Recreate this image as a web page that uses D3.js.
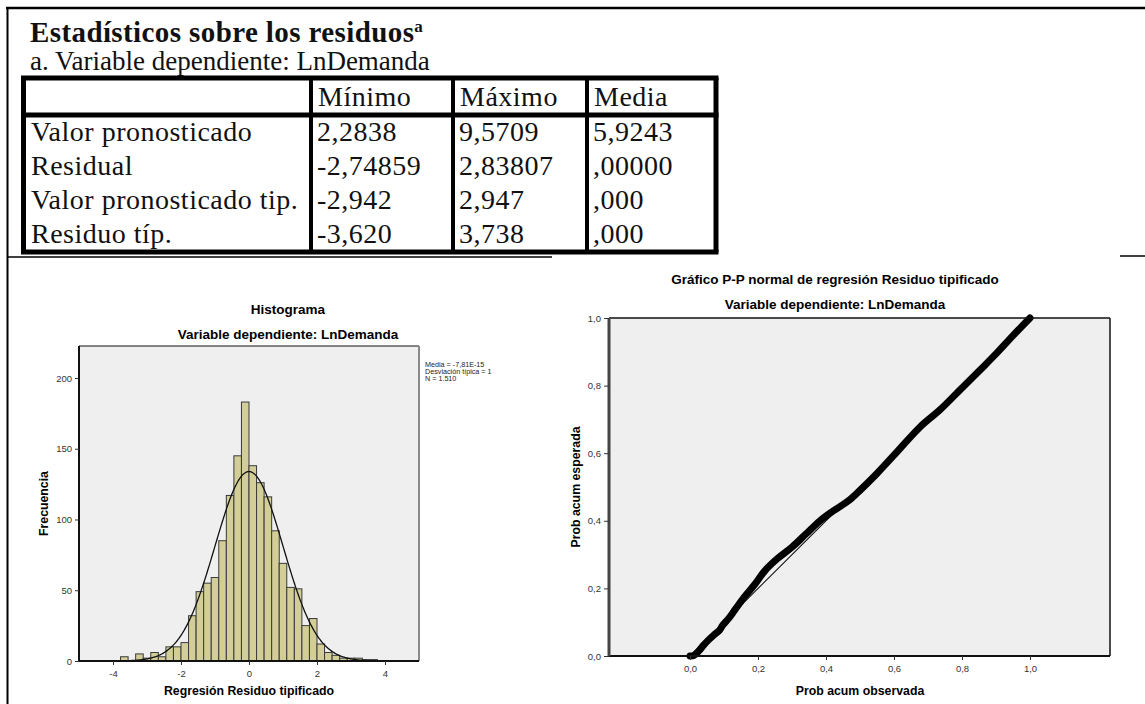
<!DOCTYPE html>
<html>
<head>
<meta charset="utf-8">
<script src="https://cdn.jsdelivr.net/npm/d3@7"></script>
<style>
  body { margin: 0; background: #fff; }
  svg { display: block; }
</style>
</head>
<body>
<svg id="chart" width="1145" height="704"></svg>
<script>
// ---- Table: Estadísticos sobre los residuos ----
const tableTitle = "Estadísticos sobre los residuos";
const tableNote = "a. Variable dependiente: LnDemanda";
const columnHeaders = ["Mínimo", "Máximo", "Media"];
const rowLabels = ["Valor pronosticado", "Residual", "Valor pronosticado tip.", "Residuo típ."];
const minimos = ["2,2838", "-2,74859", "-2,942", "-3,620"];
const maximos = ["9,5709", "2,83807", "2,947", "3,738"];
const medias = ["5,9243", ",00000", ",000", ",000"];

// ---- Histogram of standardized residuals ----
const binWidth = 2 / 9;
const firstBinStart = -17 * binWidth;
const binCounts = [3, 0, 5, 2, 6, 3, 10, 10, 13, 32, 49, 55, 59, 85, 117, 145, 183,
                   138, 126, 116, 92, 69, 52, 51, 25, 30, 12, 6, 4, 2, 2, 2, 1, 1];
const residMean = -7.81e-15;
const residSD = 1;
const residN = 1510;
const histXTicks = [-4, -2, 0, 2, 4];
const histYTicks = [0, 50, 100, 150, 200];
const histLegend = ["Media = -7,81E-15", "Desviación típica = 1", "N = 1.510"];

// ---- Normal P-P plot ----
const ppObserved = [0.000, 0.012, 0.026, 0.040, 0.054, 0.070, 0.085, 0.097, 0.115, 0.133,
                    0.160, 0.189, 0.220, 0.257, 0.300, 0.340, 0.382, 0.415, 0.441, 0.470,
                    0.500, 0.550, 0.600, 0.676, 0.735, 0.794, 0.862, 0.902, 0.950, 1.000];
const ppExpected = [0.000, 0.002, 0.015, 0.032, 0.047, 0.062, 0.074, 0.092, 0.113, 0.138,
                    0.175, 0.210, 0.252, 0.288, 0.322, 0.360, 0.400, 0.425, 0.442, 0.462,
                    0.490, 0.540, 0.594, 0.677, 0.728, 0.787, 0.855, 0.896, 0.948, 1.000];
const ppTicks = [0, 0.2, 0.4, 0.6, 0.8, 1.0];

const svg = d3.select("#chart");
const serif = "'Liberation Serif', 'Times New Roman', serif";
const sans = "'Liberation Sans', Arial, sans-serif";

function line(x1, y1, x2, y2, w, color) {
  svg.append("line").attr("x1", x1).attr("y1", y1).attr("x2", x2).attr("y2", y2)
    .attr("stroke", color || "#000").attr("stroke-width", w);
}

// ---- Page frame ----
line(6, 8, 1145, 8, 2.5);
line(7.5, 8, 7.5, 704, 2);
line(7.5, 257, 552, 257, 1.5);
line(1120, 256, 1145, 256, 1.5);

// ---- Table ----
const title = svg.append("text").attr("x", 30).attr("y", 42)
  .attr("font-family", serif).attr("font-size", 29).attr("font-weight", "bold")
  .attr("letter-spacing", 0.4).attr("fill", "#111");
title.append("tspan").text(tableTitle);
title.append("tspan").attr("font-size", 17).attr("dy", -10).text("a");

svg.append("text").attr("x", 30).attr("y", 70)
  .attr("font-family", serif).attr("font-size", 27).attr("fill", "#111")
  .text(tableNote);

const tLeft = 23.5, tRight = 716, tTop = 78, tHeader = 115, tBottom = 252;
const colX = [311, 453, 587];
const rowBase = [141, 175, 209, 243];

line(tLeft - 2.5, tTop, tRight + 2.5, tTop, 5);
line(tLeft - 2.5, tHeader, tRight + 2.5, tHeader, 5);
line(tLeft - 2.5, tBottom, tRight + 2.5, tBottom, 5);
line(tLeft, tTop, tLeft, tBottom, 5);
line(tRight, tTop, tRight, tBottom, 5);
colX.forEach(x => line(x, tTop, x, tBottom, 4));

const tableText = svg.append("g").attr("font-family", serif).attr("font-size", 28)
  .attr("letter-spacing", 0.5).attr("fill", "#111");
tableText.selectAll("text.hdr").data(columnHeaders).join("text").attr("class", "hdr")
  .attr("x", (d, i) => colX[i] + 7).attr("y", 106).text(d => d);
tableText.selectAll("text.lbl").data(rowLabels).join("text").attr("class", "lbl")
  .attr("x", 31).attr("y", (d, i) => rowBase[i]).text(d => d);
[minimos, maximos, medias].forEach((col, c) => {
  tableText.selectAll("text.v" + c).data(col).join("text").attr("class", "v" + c)
    .attr("x", colX[c] + 6).attr("y", (d, i) => rowBase[i]).text(d => d);
});

// ---- Histogram ----
const hx = d3.scaleLinear().domain([-5, 5]).range([79, 419]);
const hy = d3.scaleLinear().domain([0, 222.6]).range([661, 346]);

svg.append("rect").attr("x", 79).attr("y", 346).attr("width", 340).attr("height", 315)
  .attr("fill", "#efefef");

const bins = binCounts.map((c, i) => ({ x0: firstBinStart + i * binWidth, x1: firstBinStart + (i + 1) * binWidth, n: c }));
svg.append("g").selectAll("rect").data(bins.filter(b => b.n > 0)).join("rect")
  .attr("x", d => hx(d.x0)).attr("width", d => hx(d.x1) - hx(d.x0))
  .attr("y", d => hy(d.n)).attr("height", d => hy(0) - hy(d.n))
  .attr("fill", "#d3ce97").attr("stroke", "#3a3a3a").attr("stroke-width", 1);

// fitted normal curve from the stated mean, deviation and N
const normalPts = d3.range(-5, 5.001, 0.02).map(x => {
  const z = (x - residMean) / residSD;
  return [x, residN * binWidth * Math.exp(-0.5 * z * z) / (residSD * Math.sqrt(2 * Math.PI))];
});
svg.append("path").datum(normalPts)
  .attr("d", d3.line().x(d => hx(d[0])).y(d => hy(d[1])).curve(d3.curveBasis))
  .attr("fill", "none").attr("stroke", "#111").attr("stroke-width", 1.3);

// frame
line(79, 346, 419, 346, 1.2, "#111");
line(419, 346, 419, 661, 2, "#8a8a8a");

const hxAxis = svg.append("g").attr("transform", "translate(0,661)")
  .call(d3.axisBottom(hx).tickValues(histXTicks).tickFormat(d => String(d)).tickSize(4).tickSizeOuter(0));
const hyAxis = svg.append("g").attr("transform", "translate(79,0)")
  .call(d3.axisLeft(hy).tickValues(histYTicks).tickFormat(d => String(d)).tickSize(4).tickSizeOuter(0));
[hxAxis, hyAxis].forEach(a => {
  a.select(".domain").attr("stroke", "#111").attr("stroke-width", 2);
  a.selectAll(".tick line").attr("stroke", "#333");
  a.selectAll(".tick text").attr("font-family", sans).attr("font-size", 9.5).attr("fill", "#333");
});
hxAxis.select(".domain").attr("d", "M79,0H419");
hyAxis.select(".domain").attr("d", "M0,346V661");
hxAxis.selectAll(".tick text").attr("dy", "0.9em");

svg.append("text").attr("x", 288).attr("y", 314).attr("text-anchor", "middle")
  .attr("font-family", sans).attr("font-size", 13.5).attr("font-weight", "bold").text("Histograma");
svg.append("text").attr("x", 288).attr("y", 339).attr("text-anchor", "middle")
  .attr("font-family", sans).attr("font-size", 13.5).attr("font-weight", "bold")
  .text("Variable dependiente: LnDemanda");
svg.append("text").attr("x", 249).attr("y", 695).attr("text-anchor", "middle")
  .attr("font-family", sans).attr("font-size", 12.3).attr("font-weight", "bold")
  .text("Regresión Residuo tipificado");
svg.append("text").attr("transform", "translate(48,503.5) rotate(-90)").attr("text-anchor", "middle")
  .attr("font-family", sans).attr("font-size", 12.3).attr("font-weight", "bold").text("Frecuencia");

svg.append("g").selectAll("text").data(histLegend).join("text")
  .attr("x", 425).attr("y", (d, i) => 366.5 + i * 7)
  .attr("font-family", sans).attr("font-size", 7.2).attr("fill", "#222").text(d => d);

// ---- Normal P-P plot ----
const px = d3.scaleLinear().domain([0, 1]).range([690, 1030]);
const py = d3.scaleLinear().domain([0, 1]).range([656, 318]);
const ppLeft = 609, ppRight = 1110;

svg.append("rect").attr("x", ppLeft).attr("y", 318).attr("width", ppRight - ppLeft).attr("height", 338)
  .attr("fill", "#efefef");

svg.append("line").attr("x1", px(0)).attr("y1", py(0)).attr("x2", px(1)).attr("y2", py(1))
  .attr("stroke", "#111").attr("stroke-width", 1.1);

svg.append("path").datum(ppObserved.map((o, i) => [o, ppExpected[i]]))
  .attr("d", d3.line().x(d => px(d[0])).y(d => py(d[1])).curve(d3.curveCatmullRom))
  .attr("fill", "none").attr("stroke", "#000").attr("stroke-width", 7)
  .attr("stroke-linecap", "round").attr("stroke-linejoin", "round");

line(ppLeft, 318, ppRight, 318, 1.5, "#111");
line(ppRight, 318, ppRight, 656, 1.5, "#111");

const fmt = d => d3.format(".1f")(d).replace(".", ",");
const pxAxis = svg.append("g").attr("transform", "translate(0,656)")
  .call(d3.axisBottom(px).tickValues(ppTicks).tickFormat(fmt).tickSize(4).tickSizeOuter(0));
const pyAxis = svg.append("g").attr("transform", `translate(${ppLeft},0)`)
  .call(d3.axisLeft(py).tickValues(ppTicks).tickFormat(fmt).tickSize(5).tickSizeOuter(0));
[pxAxis, pyAxis].forEach(a => {
  a.selectAll(".tick line").attr("stroke", "#333");
  a.selectAll(".tick text").attr("font-family", sans).attr("font-size", 9.5).attr("fill", "#333");
});
pxAxis.select(".domain").attr("d", `M${ppLeft},0H${ppRight}`).attr("stroke", "#111").attr("stroke-width", 2);
pyAxis.select(".domain").attr("d", "M0,318V656").attr("stroke", "#444").attr("stroke-width", 3);
pxAxis.selectAll(".tick text").attr("dy", "0.9em");

svg.append("text").attr("x", 835).attr("y", 284).attr("text-anchor", "middle")
  .attr("font-family", sans).attr("font-size", 13.5).attr("font-weight", "bold")
  .text("Gráfico P-P normal de regresión Residuo tipificado");
svg.append("text").attr("x", 835).attr("y", 309).attr("text-anchor", "middle")
  .attr("font-family", sans).attr("font-size", 13.5).attr("font-weight", "bold")
  .text("Variable dependiente: LnDemanda");
svg.append("text").attr("x", 860).attr("y", 695).attr("text-anchor", "middle")
  .attr("font-family", sans).attr("font-size", 12.3).attr("font-weight", "bold")
  .text("Prob acum observada");
svg.append("text").attr("transform", "translate(580,487) rotate(-90)").attr("text-anchor", "middle")
  .attr("font-family", sans).attr("font-size", 12.3).attr("font-weight", "bold")
  .text("Prob acum esperada");
</script>
</body>
</html>
